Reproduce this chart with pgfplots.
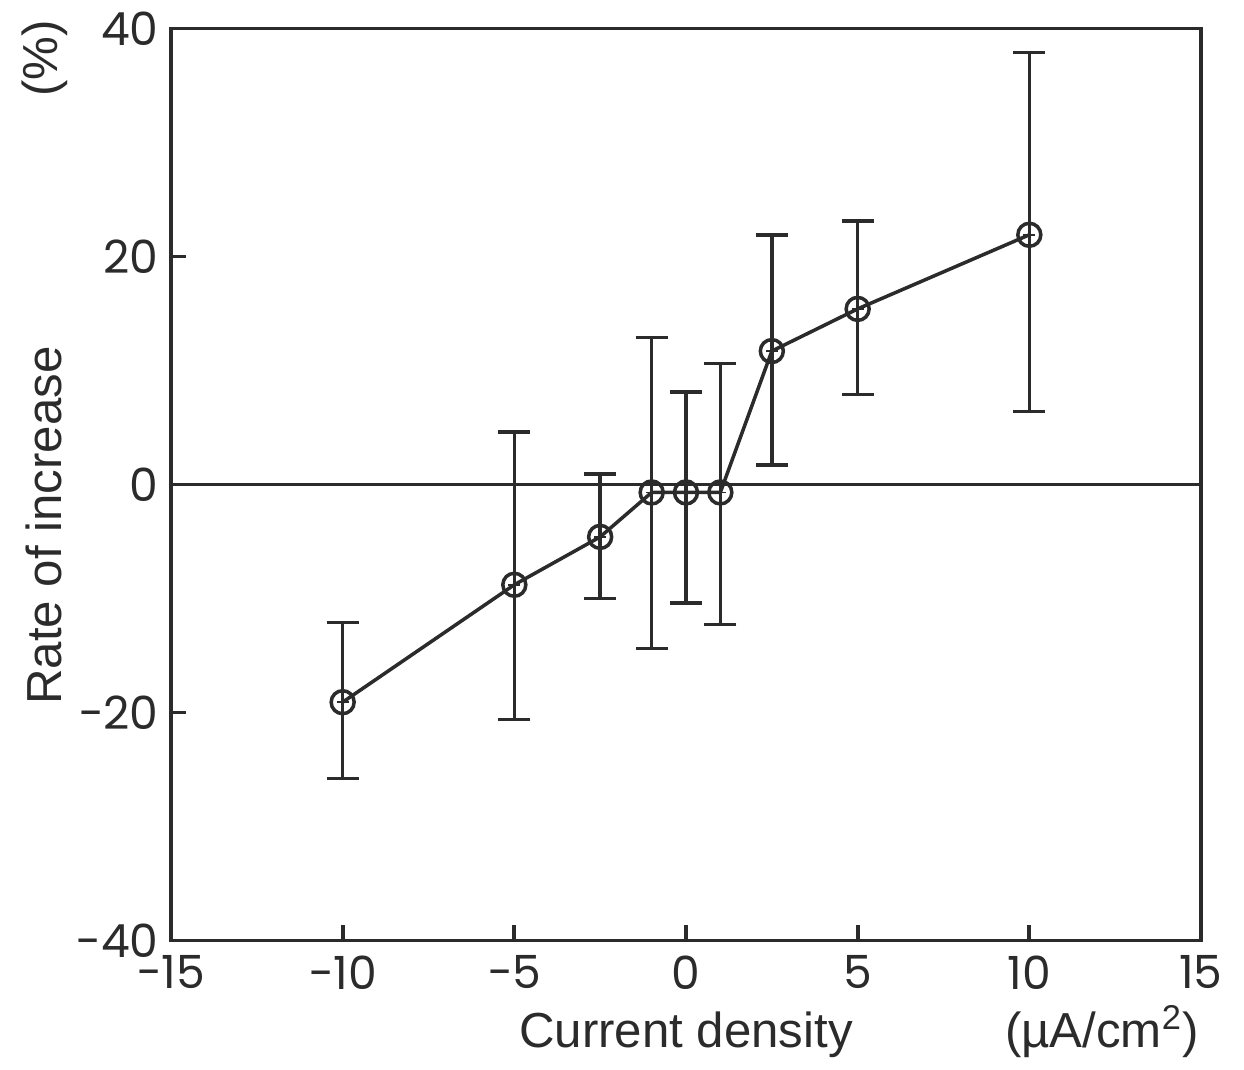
\documentclass[border=0pt]{standalone}
\usepackage{pgfplots}
\pgfplotsset{compat=1.18}
\usepackage{fontspec}
\setmainfont{Liberation Sans}
\newfontfamily\tickfont{Poppins}
\definecolor{ink}{HTML}{2B2B2B}

% x, mean, +err, -err
\pgfplotstableread{
x     y      ep    em
-10   -19.1  7.0   6.7
-5    -8.8   13.4  11.8
-2.5  -4.6   5.5   5.4
-1    -0.7   13.6  13.7
0     -0.7   8.8   9.7
1     -0.7   11.3  11.6
2.5   11.7   10.2  10.0
5     15.4   7.7   7.5
10    21.9   16.0  15.5
}\rate

\begin{document}
\begin{tikzpicture}
\begin{axis}[
    scale only axis,
    width=10.30cm,height=9.12cm,
    xmin=-15,xmax=15,ymin=-40,ymax=40,
    axis line style={ink,line width=1.1pt},
    xtick={-15,-10,...,15},
    xticklabels={−15,−10,−5,0,5,10,15},
    ytick={-40,-20,...,40},
    yticklabels={−40,−20,0,20,40},
    xtick pos=bottom,ytick pos=left,
    tick align=inside,
    major tick length=1.5mm,
    tick style={ink,line width=1.1pt},
    tick label style={font=\tickfont\fontsize{13}{14}\selectfont,text=ink},
    xticklabel style={yshift=-0.3mm},
    clip=false,
]
\addplot[ink,line width=1.1pt,forget plot] coordinates {(-15,0) (15,0)};
\addplot[
    ink,line width=1pt,
    mark=o,mark size=1.15mm,
    mark options={line width=1pt,fill=white},
    error bars/.cd,
      y dir=both,y explicit,
      error bar style={ink,line width=1pt},
      error mark options={rotate=90,mark size=1.6mm,line width=1pt},
] table[x=x,y=y,y error plus=ep,y error minus=em] {\rate};
\addplot[only marks,ink,mark=+,mark size=0.6mm,mark options={line width=0.5pt}]
    table[x=x,y=y] {\rate};

\node[rotate=90,font=\fontsize{14}{16}\selectfont,text=ink]
    at ([xshift=-12.7mm]rel axis cs:0,0.455) {Rate of increase};
\node[rotate=90,font=\fontsize{14}{16}\selectfont,text=ink]
    at ([xshift=-12.6mm]rel axis cs:0,0.967) {(\%)};
\node[font=\fontsize{14}{16}\selectfont,text=ink]
    at ([yshift=-9.4mm]rel axis cs:0.5,0) {Current density};
\node[font=\fontsize{14}{16}\selectfont,text=ink]
    at ([yshift=-9.1mm]rel axis cs:0.904,0) {(µA/cm\textsuperscript{2})};
\end{axis}
\path ([shift={(-1.71cm,-1.22cm)}]current axis.south west)
    rectangle ([shift={(0.43cm,0.25cm)}]current axis.north east);
\end{tikzpicture}
\end{document}
